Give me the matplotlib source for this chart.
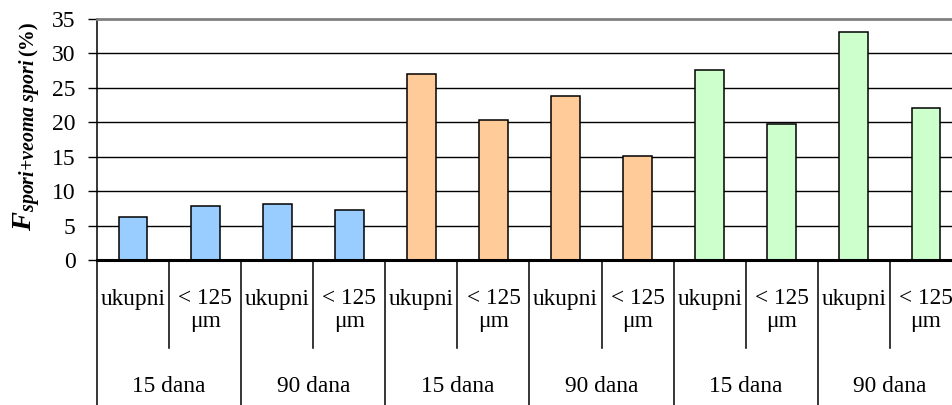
import matplotlib
matplotlib.use("Agg")
import matplotlib.pyplot as plt
from matplotlib.transforms import blended_transform_factory

plt.rcParams["font.family"] = ["Liberation Serif", "DejaVu Serif"]
plt.rcParams["mathtext.fontset"] = "custom"
plt.rcParams["mathtext.rm"] = "Liberation Serif"
plt.rcParams["mathtext.it"] = "Liberation Serif:italic"
plt.rcParams["mathtext.bf"] = "Liberation Serif:bold"
plt.rcParams["mathtext.bfit"] = "Liberation Serif:italic:bold"

# Data
fractions = ["ukupni", "< 125\nμm"] * 6
periods = ["15 dana", "90 dana"] * 3
values = [6.3, 7.8, 8.1, 7.2, 27.0, 20.3, 23.8, 15.1, 27.6, 19.7, 33.1, 22.1]
group_colors = ["#99CCFF", "#FFCC99", "#CCFFCC"]
y_ticks = [0, 5, 10, 15, 20, 25, 30, 35]

W, H = 953, 405
fig = plt.figure(figsize=(W / 100, H / 100), dpi=100)

# axes geometry in pixels
left_px, right_px, top_px, bottom_px = 97, 962, 19, 260
ax = fig.add_axes([left_px / W, 1 - bottom_px / H,
                   (right_px - left_px) / W, (bottom_px - top_px) / H])

n = len(values)
xs = list(range(n))
colors = [group_colors[i // 4] for i in range(n)]
ax.bar(xs, values, width=0.4, color=colors, edgecolor="black",
       linewidth=1.1, zorder=3)

ax.set_xlim(-0.5, n - 0.5)
ax.set_ylim(0, 35)
ax.set_yticks(y_ticks)
ax.set_yticklabels([str(t) for t in y_ticks], fontsize=17)
ax.tick_params(axis="y", direction="out", length=6.5, width=1.0, pad=9,
               color="black")
ax.set_xticks([])

for t in y_ticks[1:-1]:
    ax.axhline(t, color="black", linewidth=1.0, zorder=1)

ax.spines["left"].set_linewidth(1.1)
ax.spines["bottom"].set_linewidth(2.2)
ax.spines["bottom"].set_zorder(4)
ax.spines["top"].set_color("#808080")
ax.spines["top"].set_linewidth(2.0)
ax.spines["right"].set_visible(False)

# multi-level category axis
trans = blended_transform_factory(ax.transData, fig.transFigure)
def fy(px):
    return 1 - px / H

for i in range(n + 1):
    xb = i - 0.5
    y_end = 405 if i % 2 == 0 else 348
    ax.plot([xb, xb], [fy(bottom_px), fy(y_end)], color="black",
            linewidth=1.1, transform=trans, clip_on=False, zorder=5)

label_size = 16.8
for i, lab in enumerate(fractions):
    if "\n" in lab:
        top, bot = lab.split("\n")
        ax.text(i, fy(299), top, transform=trans, ha="center", va="center",
                fontsize=label_size)
        ax.text(i, fy(322), bot, transform=trans, ha="center", va="center",
                fontsize=label_size)
    else:
        ax.text(i, fy(299), lab, transform=trans, ha="center", va="center",
                fontsize=label_size)

for g, lab in enumerate(periods * 2):
    ax.text(2 * g + 0.5, fy(386), lab, transform=trans, ha="center",
            va="center", fontsize=label_size)

# y-axis title
fig.text(27 / W, fy(231),
         r"$\mathbfit{F}_{\mathbfit{spori{+}veoma\ spori}}$",
         rotation=90, ha="center", va="bottom", fontsize=20.5)
fig.text(29 / W, fy(56), "(%)", rotation=90, ha="center", va="bottom",
         fontsize=15, fontweight="bold")

fig.savefig("out.png", dpi=100)
